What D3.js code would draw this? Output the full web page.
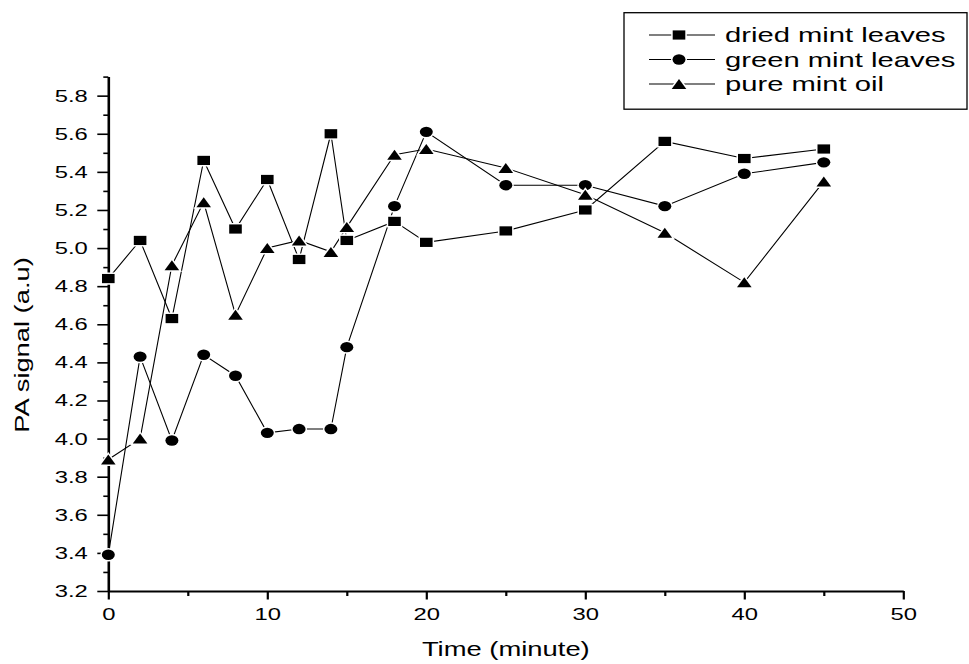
<!DOCTYPE html>
<html>
<head>
<meta charset="utf-8">
<script src="https://cdn.jsdelivr.net/npm/d3@7"></script>
<style>
  html, body { margin: 0; padding: 0; background: #fff; }
  svg text { font-family: "Liberation Sans", Arial, sans-serif; fill: #000; }
</style>
</head>
<body>
<svg id="chart" width="969" height="664"></svg>
<script>
// Sampling times (minutes)
const times = [0, 2, 4, 6, 8, 10, 12, 14, 15, 18, 20, 25, 30, 35, 40, 45];

// Photoacoustic signal for each sample (a.u)
const driedMint = [4.84, 5.04, 4.63, 5.46, 5.10, 5.36, 4.94, 5.60, 5.04, 5.14, 5.03, 5.09, 5.20, 5.56, 5.47, 5.52];
const greenMint = [3.39, 4.43, 3.99, 4.44, 4.33, 4.03, 4.05, 4.05, 4.48, 5.22, 5.61, 5.33, 5.33, 5.22, 5.39, 5.45];
const mintOil   = [3.89, 4.00, 4.91, 5.24, 4.65, 5.00, 5.04, 4.98, 5.11, 5.49, 5.52, 5.42, 5.28, 5.08, 4.82, 5.35];

const seriesNames = ["dried mint leaves", "green mint leaves", "pure mint oil"];
const seriesShapes = ["square", "circle", "triangle"];

// Axis ticks
const xMajorTicks = [0, 10, 20, 30, 40, 50];
const xMinorTicks = [5, 15, 25, 35, 45];
const yMajorTicks = [3.2, 3.4, 3.6, 3.8, 4.0, 4.2, 4.4, 4.6, 4.8, 5.0, 5.2, 5.4, 5.6, 5.8];
const yMinorTicks = [3.3, 3.5, 3.7, 3.9, 4.1, 4.3, 4.5, 4.7, 4.9, 5.1, 5.3, 5.5, 5.7, 5.9];

const series = seriesNames.map((name, i) => ({
  name,
  shape: seriesShapes[i],
  values: [driedMint, greenMint, mintOil][i].map((v, j) => ({ t: times[j], v }))
}));

const svg = d3.select("#chart");
const SX = 1.4; // glyphs are drawn wider than tall

const x = d3.scaleLinear().domain([0, 50]).range([108.3, 903.3]);
const y = d3.scaleLinear().domain([3.2, 5.9]).range([591, 76.6]);

// Marker shapes (wider than tall)
function markerPath(shape) {
  if (shape === "square") {
    const w = 6.3, h = 4.6;
    return `M${-w},${-h}H${w}V${h}H${-w}Z`;
  }
  if (shape === "circle") {
    const rx = 6.5, ry = 5.2;
    return `M${-rx},0A${rx},${ry} 0 1,0 ${rx},0A${rx},${ry} 0 1,0 ${-rx},0Z`;
  }
  const w = 7.3, h = 5.0;
  return `M0,${-h}L${w},${h}L${-w},${h}Z`;
}

// Axes
const axisG = svg.append("g");

const yAxis = axisG.append("g")
  .attr("transform", `translate(${x(0)},0)`)
  .call(d3.axisLeft(y).tickValues(yMajorTicks).tickSize(11).tickSizeOuter(0).tickFormat(d3.format(".1f")));
yAxis.select(".domain").attr("stroke-width", 2.6);
yAxis.selectAll(".tick line").attr("stroke-width", 1.6);
yAxis.selectAll(".tick text")
  .attr("font-size", 17)
  .attr("x", -20.5 / SX)
  .attr("transform", `scale(${SX},1)`);

const yMinor = axisG.append("g")
  .attr("transform", `translate(${x(0)},0)`)
  .call(d3.axisLeft(y).tickValues(yMinorTicks).tickSize(5).tickSizeOuter(0).tickFormat(""));
yMinor.select(".domain").remove();
yMinor.selectAll(".tick line").attr("stroke-width", 1.6);

const xAxis = axisG.append("g")
  .attr("transform", `translate(0,${y(3.2)})`)
  .call(d3.axisBottom(x).tickValues(xMajorTicks).tickSize(8.5).tickSizeOuter(0).tickFormat(d3.format("d")));
xAxis.select(".domain").attr("stroke-width", 2);
xAxis.selectAll(".tick line").attr("stroke-width", 2.2);
xAxis.selectAll(".tick text")
  .attr("font-size", 17)
  .attr("y", 17)
  .attr("transform", `scale(${SX},1)`)
  .attr("x", function(d) { return 0; });
// keep x labels centred on their ticks after the horizontal scale
xAxis.selectAll(".tick").each(function(d) {
  const g = d3.select(this);
  g.select("text").attr("transform", `scale(${SX},1)`);
});

const xMinor = axisG.append("g")
  .attr("transform", `translate(0,${y(3.2)})`)
  .call(d3.axisBottom(x).tickValues(xMinorTicks).tickSize(5).tickSizeOuter(0).tickFormat(""));
xMinor.select(".domain").remove();
xMinor.selectAll(".tick line").attr("stroke-width", 2.2);

axisG.selectAll(".domain").attr("stroke", "#000");
axisG.selectAll(".tick line").attr("stroke", "#000");

// Axis titles
svg.append("text")
  .attr("transform", `translate(${x(25)},656) scale(1.37,1)`)
  .attr("text-anchor", "middle")
  .attr("font-size", 20)
  .text("Time (minute)");

svg.append("text")
  .attr("transform", `translate(28.5,345) rotate(-90) scale(1.3,1)`)
  .attr("text-anchor", "middle")
  .attr("font-size", 21)
  .text("PA signal (a.u)");

// Data lines and markers
const line = d3.line().x(d => x(d.t)).y(d => y(d.v));
const plot = svg.append("g");

series.forEach(s => {
  plot.append("path")
    .datum(s.values)
    .attr("fill", "none")
    .attr("stroke", "#000")
    .attr("stroke-width", 1.1)
    .attr("d", line);
});

series.forEach(s => {
  plot.append("g").selectAll("path")
    .data(s.values)
    .join("path")
    .attr("transform", d => `translate(${x(d.t)},${y(d.v)})`)
    .attr("d", markerPath(s.shape))
    .attr("fill", "#000")
    .attr("stroke", "#fff")
    .attr("stroke-width", 3)
    .attr("paint-order", "stroke");
});

// Legend
const legend = svg.append("g");
legend.append("rect")
  .attr("x", 624).attr("y", 12.7)
  .attr("width", 343).attr("height", 96.5)
  .attr("fill", "#fff")
  .attr("stroke", "#000")
  .attr("stroke-width", 1.3);

const rowY = [35, 59.5, 84];
series.forEach((s, i) => {
  const row = legend.append("g").attr("transform", `translate(0,${rowY[i]})`);
  row.append("line")
    .attr("x1", 649).attr("x2", 715)
    .attr("y1", 0).attr("y2", 0)
    .attr("stroke", "#000").attr("stroke-width", 1.1);
  row.append("path")
    .attr("transform", "translate(679,0)")
    .attr("d", markerPath(s.shape))
    .attr("fill", "#000")
    .attr("stroke", "#fff")
    .attr("stroke-width", 3)
    .attr("paint-order", "stroke");
  row.append("text")
    .attr("transform", `translate(725,7.2) scale(1.46,1)`)
    .attr("font-size", 20)
    .text(s.name);
});
</script>
</body>
</html>
